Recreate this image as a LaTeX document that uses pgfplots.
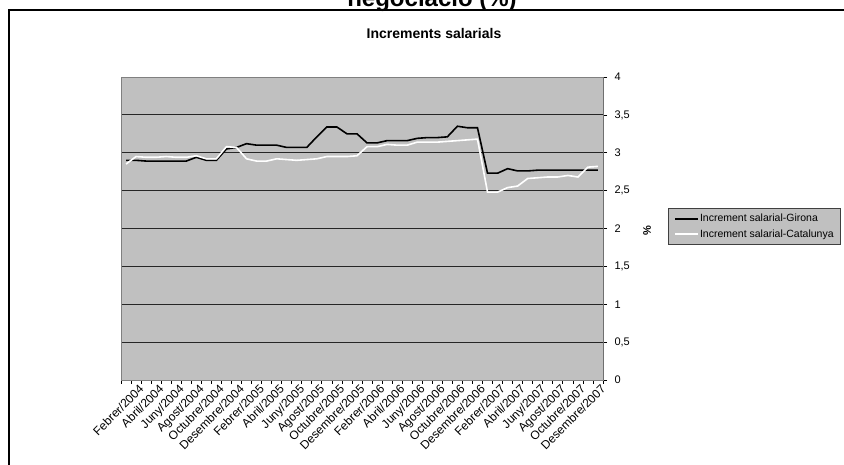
\documentclass[border=0pt]{standalone}
\usepackage{pgfplots}
\pgfplotsset{compat=1.18}
\usepackage{pgfplotstable}
\usepackage{fontspec}
\setmainfont{Liberation Sans}
\definecolor{plotbg}{HTML}{C0C0C0}
\definecolor{framegray}{HTML}{808080}

\pgfplotstableread{
i girona catalunya
0 2.90 2.85
1 2.90 2.95
2 2.89 2.94
3 2.89 2.94
4 2.89 2.95
5 2.89 2.94
6 2.89 2.94
7 2.94 2.96
8 2.90 2.92
9 2.90 2.92
10 3.05 3.08
11 3.07 3.07
12 3.12 2.92
13 3.10 2.89
14 3.10 2.89
15 3.10 2.92
16 3.07 2.91
17 3.07 2.90
18 3.07 2.91
19 3.21 2.92
20 3.34 2.95
21 3.34 2.95
22 3.25 2.95
23 3.25 2.96
24 3.13 3.08
25 3.13 3.08
26 3.16 3.11
27 3.16 3.10
28 3.16 3.10
29 3.19 3.14
30 3.20 3.14
31 3.20 3.14
32 3.21 3.15
33 3.35 3.16
34 3.33 3.17
35 3.33 3.18
36 2.73 2.48
37 2.73 2.48
38 2.79 2.54
39 2.76 2.56
40 2.76 2.66
41 2.77 2.67
42 2.77 2.68
43 2.77 2.68
44 2.77 2.70
45 2.77 2.68
46 2.77 2.81
47 2.77 2.82
}\datatable

\begin{document}
\begin{tikzpicture}[x=1pt,y=1pt]
\fill[white] (0,0) rectangle (844,465);
\draw[black, line width=1.2pt] (9,-20) rectangle (870,455);
\node[font=\fontsize{24}{28}\selectfont\bfseries, anchor=base, inner sep=0pt] at (432,458) {negociació (\%)};
\node[font=\fontsize{14}{16}\selectfont\bfseries, anchor=base, inner sep=0pt] at (434,426) {Increments salarials};
\node[font=\fontsize{11}{13}\selectfont\bfseries, rotate=90, inner sep=0pt] at (647,234) {\%};
\begin{axis}[
  at={(121pt,85pt)}, anchor=south west, scale only axis,
  width=482pt, height=303pt,
  xmin=-0.5, xmax=47.5, ymin=0, ymax=4,
  axis background/.style={fill=plotbg},
  axis line style={framegray, line width=0.9pt},
  ytick={0,0.5,1,1.5,2,2.5,3,3.5,4},
  yticklabel pos=right, ytick pos=right,
  xtick pos=bottom,
  ymajorgrids, grid style={black!85, line width=0.9pt},
  tick align=outside,
  tick style={black, line width=0.7pt},
  major tick length=4pt,
  /pgf/number format/use comma,
  /pgf/number format/assume math mode=true,
  tick label style={font=\fontsize{11}{13}\selectfont},
  yticklabel style={xshift=4pt},
  xtick={-0.5,0.5,...,47.5}, xticklabels={},
  extra x ticks={1,3,...,47},
  extra x tick labels={Febrer/2004,Abril/2004,Juny/2004,Agost/2004,Octubre/2004,Desembre/2004,
    Febrer/2005,Abril/2005,Juny/2005,Agost/2005,Octubre/2005,Desembre/2005,
    Febrer/2006,Abril/2006,Juny/2006,Agost/2006,Octubre/2006,Desembre/2006,
    Febrer/2007,Abril/2007,Juny/2007,Agost/2007,Octubre/2007,Desembre/2007},
  extra x tick style={major tick length=0pt, grid=none,
    xticklabel style={rotate=45, anchor=north east, inner sep=1pt, yshift=-3pt,
      font=\fontsize{12}{14}\selectfont}},
  legend style={at={(axis description cs:1.1349,0.5677)}, anchor=north west,
    fill=plotbg, draw=black!75, line width=0.8pt,
    font=\fontsize{10.5}{12}\selectfont, inner xsep=6pt, inner ysep=5pt,
    row sep=4pt, nodes={inner sep=1pt}},
  legend cell align=left,
  legend image code/.code={\draw[#1] (0pt,0pt) -- (23pt,0pt);},
]
\addplot[black, line width=1.6pt] table[x=i, y=girona] {\datatable};
\addlegendentry{Increment salarial-Girona}
\addplot[white, line width=1.6pt] table[x=i, y=catalunya] {\datatable};
\addlegendentry{Increment salarial-Catalunya}
\draw[black, line width=0.9pt] (rel axis cs:0,0) -- (rel axis cs:1,0) -- (rel axis cs:1,1);
\end{axis}
\pgfresetboundingbox
\path[use as bounding box] (0,0) rectangle (844,465);
\end{tikzpicture}
\end{document}
